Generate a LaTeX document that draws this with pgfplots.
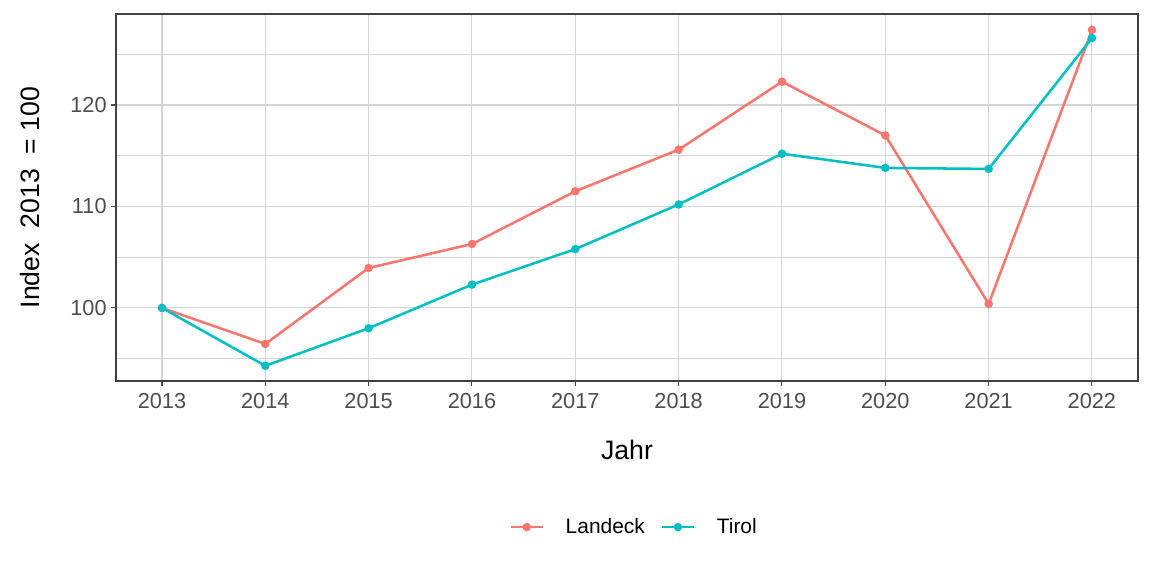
\documentclass[border=0pt]{standalone}
\usepackage{pgfplots}
\pgfplotsset{compat=1.18}
\usepackage{fontspec}
\setmainfont{Liberation Sans}
\definecolor{cL}{HTML}{F8766D}
\definecolor{cT}{HTML}{00BFC4}
\definecolor{tickc}{HTML}{4D4D4D}
\definecolor{gridc}{HTML}{D4D4D4}
\begin{document}
\begin{tikzpicture}[x=0.75pt,y=0.75pt]
\path[use as bounding box] (0,0) rectangle (1152,576);
\begin{axis}[
  at={(116*0.75pt,195*0.75pt)}, anchor=south west,
  scale only axis, width=766.5pt, height=275.25pt,
  xmin=2012.555, xmax=2022.445,
  ymin=92.8, ymax=128.97,
  xtick={2013,...,2022},
  ytick={100,110,120},
  minor ytick={95,105,115,125},
  /pgf/number format/assume math mode=true,
  /pgf/number format/1000 sep={},
  tick label style={font=\fontsize{16.3}{18}\selectfont, text=tickc},
  xticklabel style={yshift=-2pt},
  grid=both,
  major grid style={gridc, line width=0.8pt},
  minor grid style={gridc, line width=0.5pt},
  tick align=outside, tick pos=left,
  major tick length=3.5pt, minor tick length=0pt,
  every tick/.style={black!70, line width=0.8pt},
  axis line style={black!75, line width=0.8pt},
  xlabel={Jahr}, ylabel={Index\ \ 2013\ \ = 100},
  label style={font=\fontsize{20}{24}\selectfont},
  xlabel style={at={(axis description cs:0.5,-0.188)}, anchor=center},
  ylabel style={at={(axis description cs:-0.084,0.5)}, anchor=center},
  legend style={at={(axis description cs:0.509,-0.398)}, anchor=center, draw=none,
    font=\fontsize{15.7}{18}\selectfont, column sep=7pt, legend cell align=left,
    nodes={inner xsep=4.7pt}},
  legend columns=2,
  legend image code/.code={\draw[#1, line width=1.9pt] (0cm,0cm) -- (0.85cm,0cm); \fill[#1] (0.425cm,0cm) circle (2.2pt); \path (0.85cm+4.5pt,0cm);},
]
\addplot[cL, line width=1.9pt, mark=*, mark size=2.2pt] coordinates {
(2013,100) (2014,96.45) (2015,103.94) (2016,106.3) (2017,111.5) (2018,115.6) (2019,122.3) (2020,117.0) (2021,100.4) (2022,127.4)};
\addlegendentry{Landeck}
\addplot[cT, line width=1.9pt, mark=*, mark size=2.2pt] coordinates {
(2013,100) (2014,94.3) (2015,98.0) (2016,102.3) (2017,105.8) (2018,110.2) (2019,115.2) (2020,113.8) (2021,113.7) (2022,126.6)};
\addlegendentry{Tirol}
\end{axis}
\end{tikzpicture}
\end{document}
